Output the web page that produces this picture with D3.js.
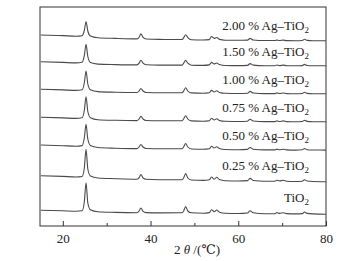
<!DOCTYPE html>
<html>
<head>
<meta charset="utf-8">
<script src="https://cdn.jsdelivr.net/npm/d3@7"></script>
<style>
  body { margin: 0; background: #fff; }
  text { font-family: "Liberation Serif", "DejaVu Serif", serif; fill: #222; }
</style>
</head>
<body>
<script>
// ================= DATA ==============================
// 2 theta grid (deg) at which the traces were read
const twoTheta = [15, 20, 23, 24.4, 24.9, 25.3, 25.7, 26.3, 28, 32,
                  36.9, 37.4, 37.8, 38.3, 39, 42, 47.2, 47.6, 48.0, 48.5,
                  49.3, 52, 53.4, 53.9, 54.5, 55.1, 55.7, 57, 60, 62.1,
                  62.7, 63.4, 66, 68.4, 68.8, 69.4, 70.3, 71, 73, 74.6,
                  75.1, 75.7, 77, 80];

// intensity (a.u., stacked as plotted)
const tio2 = [15.7, 15.2, 14.8, 15.2, 24, 43.3, 23, 16.2, 14.2, 13.6,
              13.3, 15, 18, 14.6, 13.4, 13.1, 13.2, 15.5, 19.5, 15,
              13.2, 12.8, 13.4, 16.3, 14.3, 16, 13.8, 12.7, 12.5, 13,
              15.2, 13.2, 12.3, 12.3, 13.5, 12.6, 13.3, 12.4, 12.1, 12.4,
              14, 12.6, 12.1, 11.8];
const ag025 = [50.3, 49.6, 49, 49.5, 58, 76.7, 57, 50, 48, 47.3,
               46.8, 48.3, 51.5, 48, 46.7, 46.3, 46.2, 48.6, 52.5, 48,
               46, 45.6, 46.2, 49, 46.8, 48.7, 46.4, 45.3, 45, 45.4,
               47.6, 45.5, 44.8, 44.8, 45.8, 45, 45.7, 44.8, 44.5, 44.8,
               46.3, 45, 44.5, 44.3];
const ag050 = [81, 80.3, 79.8, 80.4, 88, 101.7, 87, 80.5, 78.5, 77.8,
               77.4, 79, 81.5, 79, 77.5, 77.2, 77.2, 79.5, 82.5, 79,
               77, 76.7, 77.2, 79.8, 78, 79.3, 77.5, 76.5, 76.3, 76.6,
               78.5, 76.8, 76.1, 76.1, 76.9, 76.2, 76.8, 76.1, 75.9, 76.2,
               77.5, 76.3, 76, 75.9];
const ag075 = [108.7, 108.1, 107.6, 108.2, 115.5, 129.3, 114.5, 108.3, 106.3, 105.7,
               105.4, 107, 109.6, 107, 105.5, 105.2, 105.2, 107.5, 110.3, 107,
               105.1, 104.8, 105.3, 107.8, 106, 107.3, 105.6, 104.7, 104.5, 104.8,
               106.8, 105, 104.4, 104.4, 105.2, 104.5, 105.1, 104.4, 104.2, 104.5,
               105.8, 104.6, 104.3, 104.2];
const ag100 = [136.7, 136.1, 135.6, 136.2, 143, 155, 142, 136.2, 134.4, 133.8,
               133.5, 135, 137.5, 135, 133.5, 133.2, 133.2, 135.4, 138.2, 135,
               133.1, 132.8, 133.3, 135.6, 134, 135.2, 133.6, 132.7, 132.5, 132.8,
               134.6, 133, 132.4, 132.4, 133.1, 132.5, 133, 132.4, 132.2, 132.5,
               133.7, 132.6, 132.3, 132.2];
const ag150 = [164.3, 163.6, 163.1, 163.7, 170.3, 181.7, 169.5, 163.5, 161.9, 161.4,
               161.1, 162.8, 165.8, 162.8, 161.2, 160.9, 160.9, 163.2, 165.6, 162.8,
               160.8, 160.6, 161.1, 163.6, 162, 163, 161.4, 160.5, 160.4, 160.6,
               162.4, 160.9, 160.3, 160.3, 161, 160.4, 160.9, 160.3, 160.2, 160.4,
               161.6, 160.5, 160.2, 160.2];
const ag200 = [191, 190.4, 189.8, 190.3, 195.5, 204.3, 195, 190, 188.3, 187.6,
               187.1, 188.8, 192.2, 188.7, 187, 186.6, 186.5, 188.6, 191.3, 188.4,
               186.3, 186, 186.4, 189.5, 187.6, 188.5, 186.6, 185.8, 185.7, 185.9,
               187.6, 186, 185.5, 185.5, 185.9, 185.5, 185.9, 185.4, 185.3, 185.5,
               186.7, 185.6, 185.3, 185.2];

const seriesLabels = ["TiO", "0.25 % Ag\u2013TiO", "0.50 % Ag\u2013TiO", "0.75 % Ag\u2013TiO",
                      "1.00 % Ag\u2013TiO", "1.50 % Ag\u2013TiO", "2.00 % Ag\u2013TiO"];
const seriesValues = [tio2, ag025, ag050, ag075, ag100, ag150, ag200];
const majorTicks = [20, 40, 60, 80];
const minorTicks = [30, 50, 70];

// ================== LAYOUT ===========================
const svg = d3.select("body")
              .append("svg")
              .attr("width", 363)
              .attr("height", 261);

const margin = {left: 40, right: 37, top: 7, bottom: 35};
const width = 363 - margin.left - margin.right;
const height = 261 - margin.top - margin.bottom;

let group = svg.append("g")
               .attr("transform", `translate(${margin.left}, ${margin.top})`);

// ===================== SCALES ========================
let xScale = d3.scaleLinear().domain([14.8, 80]).range([0, width]);
let yScale = d3.scaleLinear().domain([0, 219]).range([height, 0]);

// ===================== AXIS: X =======================
let xAxis = d3.axisBottom(xScale).tickValues(majorTicks).tickSizeInner(-5).tickSizeOuter(0).tickPadding(8);
let gx = group.append("g")
     .attr("transform", `translate(0, ${height})`)
     .call(xAxis);
gx.select(".domain").remove();
gx.selectAll("line").attr("stroke", "#333");
gx.selectAll("text").attr("font-size", 13).attr("font-family", "Liberation Serif").attr("fill", "#222");

let xMinor = d3.axisBottom(xScale).tickValues(minorTicks).tickSizeInner(-3).tickSizeOuter(0).tickFormat("");
let gm = group.append("g")
     .attr("transform", `translate(0, ${height})`)
     .call(xMinor);
gm.select(".domain").remove();
gm.selectAll("line").attr("stroke", "#333");

// frame
group.append("rect")
     .attr("width", width)
     .attr("height", height)
     .attr("fill", "none")
     .attr("stroke", "#333")
     .attr("stroke-width", 1);

// ==================== Lines ==========================
let line = d3.line()
             .x((d, i) => xScale(twoTheta[i]))
             .y(d => yScale(d))
             .curve(d3.curveMonotoneX);

group.selectAll(".trace")
     .data(seriesValues)
     .join("path")
     .attr("class", "trace")
     .attr("fill", "none")
     .attr("stroke", "#4a4a4a")
     .attr("stroke-width", 1.1)
     .attr("d", d => line(d));

// ==================== Labels =========================
let labels = group.selectAll(".lab")
     .data(seriesLabels)
     .join("text")
     .attr("class", "lab")
     .attr("text-anchor", "end")
     .attr("font-size", 13)
     .attr("x", xScale(76.1))
     .attr("y", (d, i) => yScale(seriesValues[i][0]) - (i === 0 ? 8.5 : 5.5));

labels.append("tspan").text(d => d);
labels.append("tspan").attr("font-size", 9).attr("dy", 3).text("2");

// x title
let title = svg.append("text")
     .attr("x", 197)
     .attr("y", 254)
     .attr("text-anchor", "middle")
     .attr("font-size", 13);
title.append("tspan").text("2 ");
title.append("tspan").attr("font-style", "italic").text("\u03b8");
title.append("tspan").text(" /(\u2103)");
</script>
</body>
</html>
